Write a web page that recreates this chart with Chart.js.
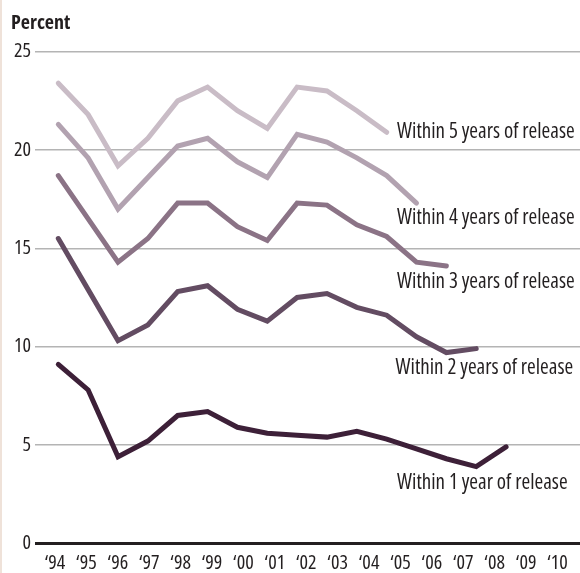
<!DOCTYPE html>
<html>
<head>
<meta charset="utf-8">
<script src="https://cdn.jsdelivr.net/npm/chart.js@4.4.1/dist/chart.umd.min.js"></script>
<style>
  html, body { margin: 0; padding: 0; background: #fff; }
  #wrap { position: relative; width: 580px; height: 573px; }
  #edge { position: absolute; left: 0; top: 0; width: 2px; height: 573px; background: #efe2d9; }
</style>
</head>
<body>
<div id="wrap">
  <canvas id="chart" width="580" height="573"></canvas>
  <div id="edge"></div>
</div>
<script>
// data years (one point per year, each series starts in 1994)
const years = [1994, 1995, 1996, 1997, 1998, 1999, 2000, 2001, 2002, 2003, 2004, 2005, 2006, 2007, 2008, 2009];
// year labels along the bottom
const tickYears = [1994, 1995, 1996, 1997, 1998, 1999, 2000, 2001, 2002, 2003, 2004, 2005, 2006, 2007, 2008, 2009, 2010];
const yTicks = [0, 5, 10, 15, 20, 25];

const within1 = [9.1, 7.8, 4.4, 5.2, 6.5, 6.7, 5.9, 5.6, 5.5, 5.4, 5.7, 5.3, 4.8, 4.3, 3.9, 4.9];
const within2 = [15.5, 12.9, 10.3, 11.1, 12.8, 13.1, 11.9, 11.3, 12.5, 12.7, 12.0, 11.6, 10.5, 9.7, 9.9];
const within3 = [18.7, 16.5, 14.3, 15.5, 17.3, 17.3, 16.1, 15.4, 17.3, 17.2, 16.2, 15.6, 14.3, 14.1];
const within4 = [21.3, 19.6, 17.0, 18.6, 20.2, 20.6, 19.4, 18.6, 20.8, 20.4, 19.6, 18.7, 17.3];
const within5 = [23.4, 21.8, 19.2, 20.6, 22.5, 23.2, 22.0, 21.1, 23.2, 23.0, 22.0, 20.9];

const seriesNames = ['Within 1 year of release', 'Within 2 years of release', 'Within 3 years of release',
                     'Within 4 years of release', 'Within 5 years of release'];
const seriesColors = ['#3d2038', '#634c62', '#8b7386', '#b2a2b0', '#c9bcc6'];

// Open Sans has a condensed face; chart.js passes "weight" straight into the font string
const FONT = "'Open Sans', Roboto, sans-serif";
const INK = '#231f20';

const toPoints = (vals) => vals.map((v, i) => ({ x: years[i], y: v }));
const allSeries = [within1, within2, within3, within4, within5];

const datasets = allSeries.map((vals, i) => ({
  label: seriesNames[i],
  data: toPoints(vals),
  borderColor: seriesColors[i],
  borderWidth: 5,
  borderCapStyle: 'round',
  pointRadius: 0,
  tension: 0,
  xAxisID: 'xd'
}));

// where each series name sits (in data units)
const nameSpots = [
  { x: 2005.35, y: 3.07 },
  { x: 2005.3, y: 8.91 },
  { x: 2005.35, y: 13.28 },
  { x: 2005.35, y: 16.54 },
  { x: 2005.35, y: 20.9 }
];

const textPlugin = {
  id: 'texts',
  afterDraw(chart) {
    const ctx = chart.ctx;
    const xs = chart.scales.xd, ys = chart.scales.y;
    ctx.save();
    ctx.fillStyle = INK;
    ctx.textBaseline = 'middle';
    ctx.textAlign = 'left';
    ctx.font = 'bold condensed 20px ' + FONT;
    ctx.fillText('Percent', 11, 23);
    ctx.font = 'condensed 21px ' + FONT;
    seriesNames.forEach((name, i) => {
      ctx.fillText(name, xs.getPixelForValue(nameSpots[i].x), ys.getPixelForValue(nameSpots[i].y));
    });
    ctx.restore();
  }
};

new Chart(document.getElementById('chart'), {
  type: 'line',
  data: { datasets: datasets },
  options: {
    responsive: false,
    animation: false,
    events: [],
    layout: { padding: { left: 10, top: 51.7, right: 0, bottom: 0 } },
    plugins: { legend: { display: false }, tooltip: { enabled: false } },
    scales: {
      x: {
        type: 'linear',
        position: 'bottom',
        min: 1993.363,
        max: 2010.717,
        afterBuildTicks: (s) => { s.ticks = tickYears.map(v => ({ value: v })); },
        afterFit: (s) => { s.height = 29.7; },
        grid: { display: false },
        border: { display: false },
        ticks: {
          autoSkip: false,
          maxRotation: 0,
          padding: 2,
          color: INK,
          font: { family: FONT, size: 20, weight: 'condensed', lineHeight: 1 },
          callback: (v) => '\u2018' + String(v).slice(2)
        }
      },
      xd: {
        type: 'linear',
        display: false,
        min: 1993.219,
        max: 2011.477
      },
      y: {
        min: 0,
        max: 25,
        afterBuildTicks: (s) => { s.ticks = yTicks.map(v => ({ value: v })); },
        afterFit: (s) => { s.width = 25; },
        border: { display: false },
        grid: {
          drawTicks: false,
          color: (c) => c.tick && c.tick.value === 0 ? '#231f20' : '#b4b4b4',
          lineWidth: (c) => c.tick && c.tick.value === 0 ? 3 : 1.5
        },
        ticks: {
          padding: 4,
          color: INK,
          font: { family: FONT, size: 20, weight: 'condensed' }
        }
      }
    }
  },
  plugins: [textPlugin]
});
</script>
</body>
</html>
